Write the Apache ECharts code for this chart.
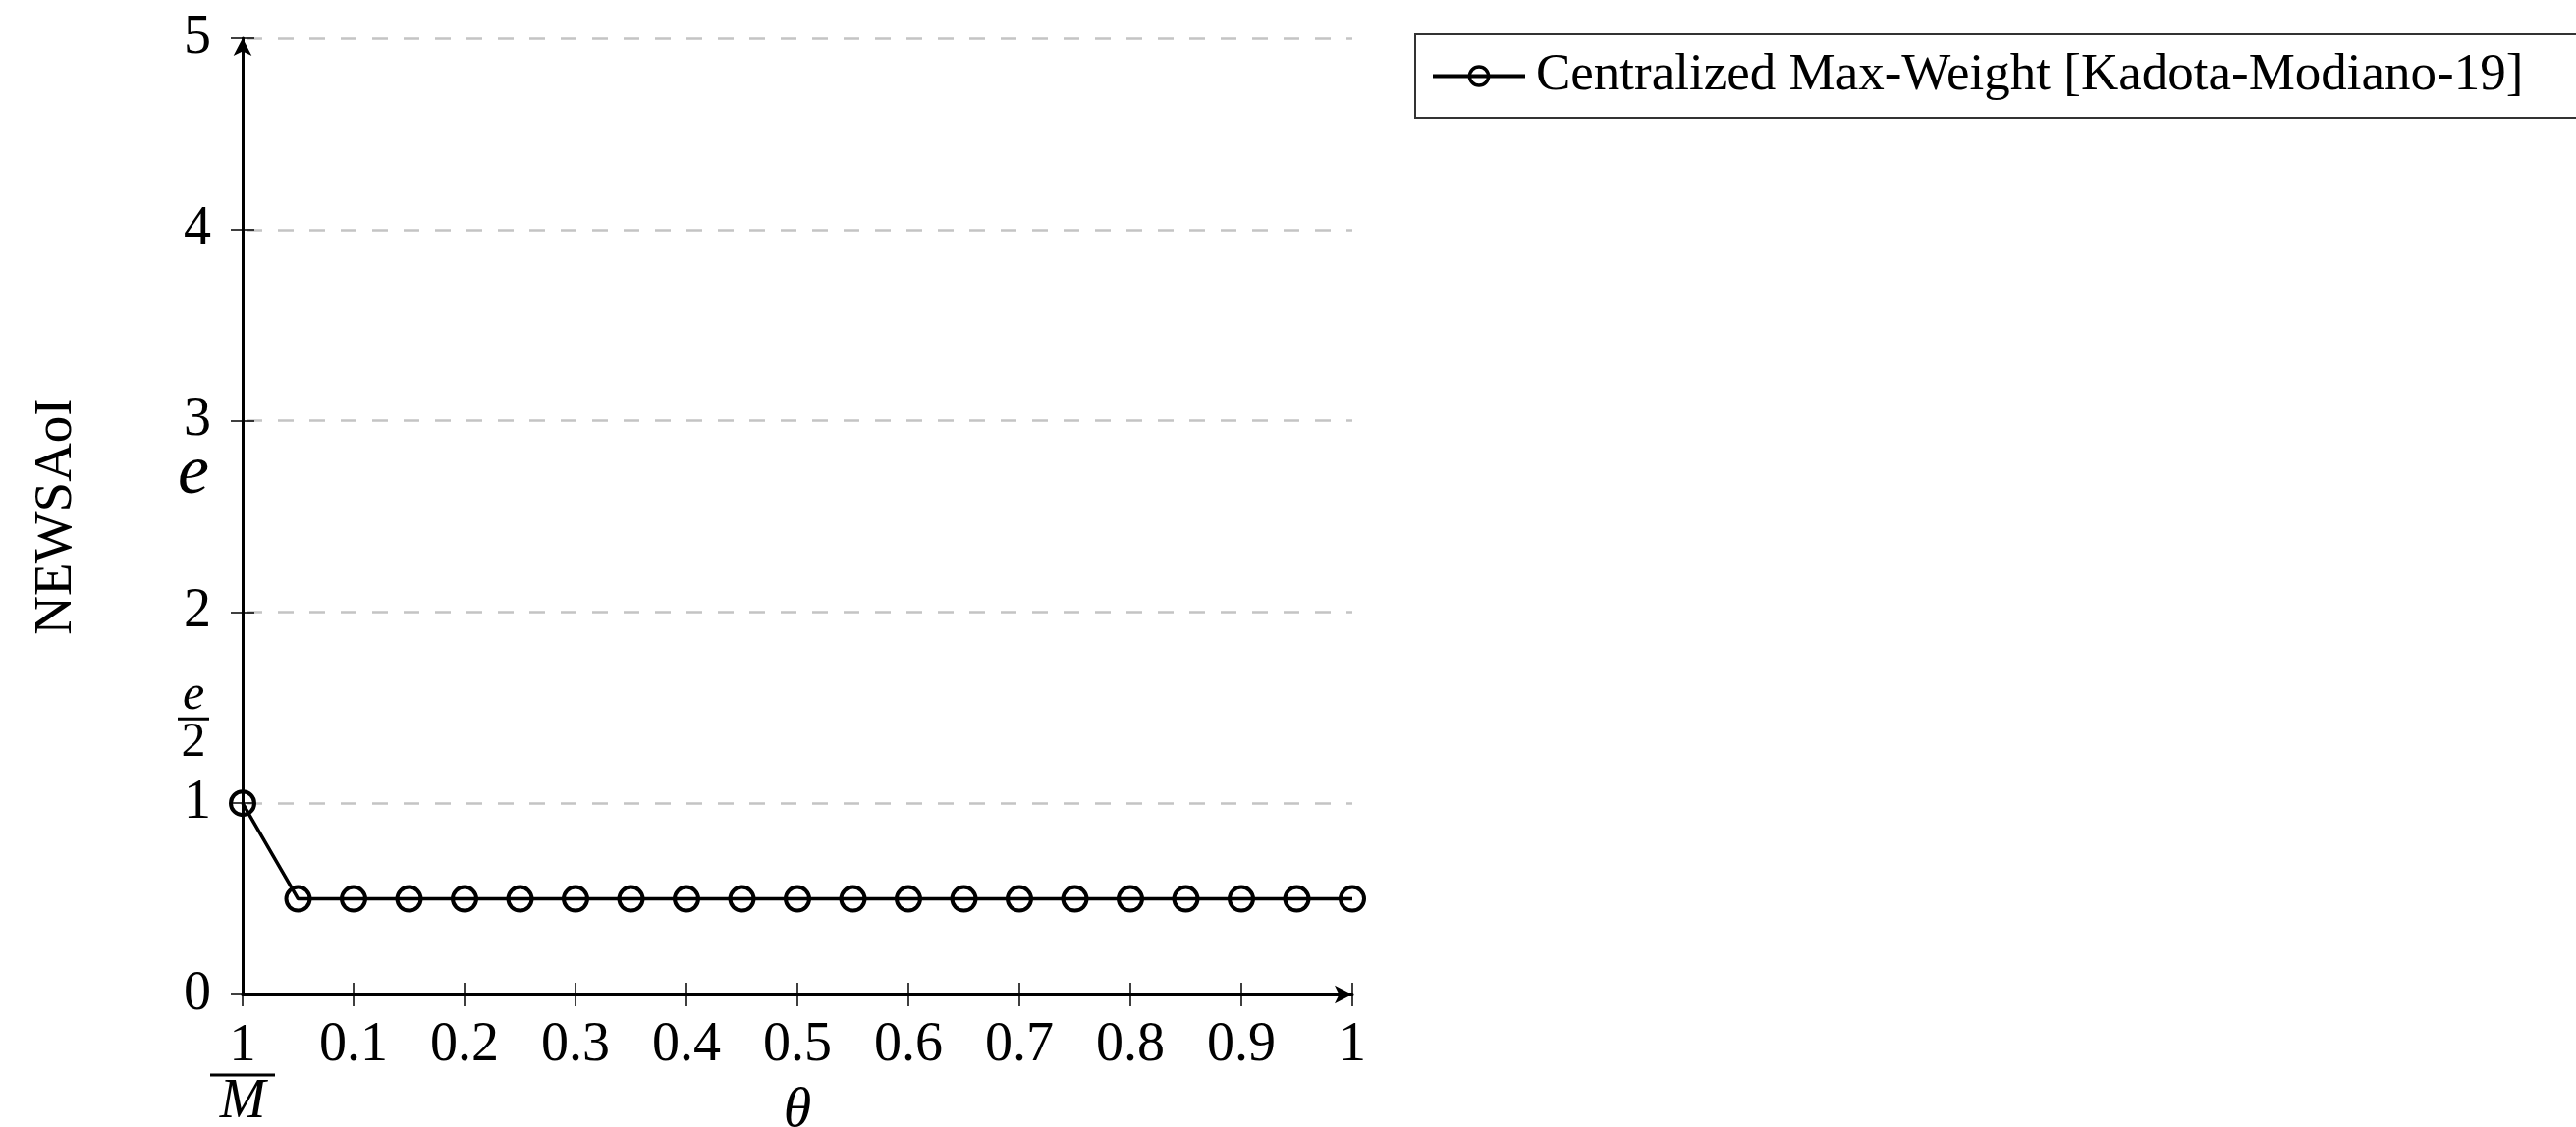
<!DOCTYPE html>
<html><head><meta charset="utf-8">
<script src="https://cdn.jsdelivr.net/npm/echarts@6/dist/echarts.min.js"></script>
<style>html,body{margin:0;padding:0;background:#fff}#c{width:2623px;height:1148px}</style>
</head><body><div id="c"></div>
<script>
// ---- data ----
const seriesName = 'Centralized Max-Weight [Kadota-Modiano-19]';
// first point sits at theta = 1/M (drawn at the axis origin)
const thetaValues = [0, 0.05, 0.1, 0.15, 0.2, 0.25, 0.3, 0.35, 0.4, 0.45, 0.5, 0.55, 0.6, 0.65, 0.7, 0.75, 0.8, 0.85, 0.9, 0.95, 1.0];
const newsaoiValues = [1, 0.5, 0.5, 0.5, 0.5, 0.5, 0.5, 0.5, 0.5, 0.5, 0.5, 0.5, 0.5, 0.5, 0.5, 0.5, 0.5, 0.5, 0.5, 0.5, 0.5];
const xTickValues = [0, 0.1, 0.2, 0.3, 0.4, 0.5, 0.6, 0.7, 0.8, 0.9, 1];
const xTickLabels = ['1/M', '0.1', '0.2', '0.3', '0.4', '0.5', '0.6', '0.7', '0.8', '0.9', '1'];
const yTickValues = [0, 1, 2, 3, 4, 5];
const yTickLabels = ['0', '1', '2', '3', '4', '5'];
const yExtraValues = [Math.E / 2, Math.E];
const yExtraLabels = ['e/2', 'e'];
const xName = 'θ';
const yName = 'NEWSAoI';

// ---- chart ----
const SERIF = '"Liberation Serif", "Times New Roman", serif';
const chart = echarts.init(document.getElementById('c'), null, {renderer: 'canvas'});
const fracRich = {
  n: {fontFamily: SERIF, fontSize: 54, lineHeight: 58, color: '#000', align: 'center'},
  hr: {width: 66, height: 0, borderWidth: 3, borderColor: '#000', align: 'center'},
  m: {fontFamily: SERIF, fontStyle: 'italic', fontSize: 56, lineHeight: 56, color: '#000', align: 'center'},
  e: {fontFamily: SERIF, fontStyle: 'italic', fontSize: 50, lineHeight: 46, color: '#000', align: 'center'},
  hr2: {width: 32, height: 0, borderWidth: 3, borderColor: '#000', align: 'center'},
  d: {fontFamily: SERIF, fontSize: 50, lineHeight: 50, color: '#000', align: 'center'},
  sp: {fontFamily: SERIF, fontSize: 10, lineHeight: 28, color: '#fff', align: 'center'},
  big: {fontFamily: SERIF, fontStyle: 'italic', fontSize: 72, color: '#000'}
};
const xMin = 0, xMax = 1, yMin = 0, yMax = 5;
chart.setOption({
  backgroundColor: '#fff',
  animation: false,
  grid: {left: 247, right: 1246, top: 39, bottom: 135, containLabel: false, outerBoundsMode: 'none'},
  legend: {
    left: 1441, top: 35,
    padding: [16, 60, 16, 16],
    borderColor: '#333', borderWidth: 2,
    itemWidth: 94, itemHeight: 24,
    textStyle: {fontFamily: SERIF, fontSize: 53, color: '#000', padding: [0, 0, 0, 6]},
    lineStyle: {color: '#000', width: 4},
    itemStyle: {color: 'rgba(255,255,255,0)', borderColor: '#000', borderWidth: 3.5},
    data: [seriesName]
  },
  xAxis: [{
    type: 'value', min: xMin, max: xMax, interval: 0.1,
    name: xName, nameLocation: 'middle', nameGap: 90, nameMoveOverlap: false,
    nameTextStyle: {fontFamily: SERIF, fontStyle: 'italic', fontSize: 58, color: '#000'},
    axisLine: {show: true, onZero: false, symbol: ['none', 'arrow'], symbolSize: [14, 18], lineStyle: {color: '#000', width: 3}},
    axisTick: {show: true, inside: false, length: 12, customValues: xTickValues, lineStyle: {color: '#000', width: 1.5}},
    axisLabel: {
      customValues: xTickValues, margin: 24, color: '#000', fontFamily: SERIF, fontSize: 56,
      formatter: function (v) {
        const i = xTickValues.findIndex(t => Math.abs(t - v) < 1e-9);
        const s = i >= 0 ? xTickLabels[i] : String(v);
        if (s.indexOf('/') > 0) { const p = s.split('/'); return '{n|' + p[0] + '}\n{hr|}\n{m|' + p[1] + '}'; }
        return s;
      },
      rich: fracRich
    },
    splitLine: {show: false}
  }, {
    type: 'value', min: xMin, max: xMax, interval: 0.1, position: 'bottom',
    axisLine: {show: false},
    axisTick: {show: true, inside: true, length: 12, customValues: xTickValues, lineStyle: {color: '#000', width: 1.5}},
    axisLabel: {show: false}, splitLine: {show: false}
  }],
  yAxis: [{
    type: 'value', min: yMin, max: yMax, interval: 1,
    name: yName, nameLocation: 'middle', nameGap: 162, nameMoveOverlap: false,
    nameTextStyle: {fontFamily: SERIF, fontSize: 55, color: '#000'},
    axisLine: {show: true, onZero: false, symbol: ['none', 'arrow'], symbolSize: [14, 18], lineStyle: {color: '#000', width: 3}},
    axisTick: {show: true, inside: false, length: 12, lineStyle: {color: '#000', width: 1.5}},
    axisLabel: {
      margin: 32, color: '#000', fontFamily: SERIF, fontSize: 56,
      formatter: function (v) { const i = yTickValues.indexOf(v); return i >= 0 ? yTickLabels[i] : String(v); }
    },
    splitLine: {show: true, lineStyle: {color: '#c4c4c4', width: 2.5, type: [16, 16], dashOffset: 28}}
  }, {
    type: 'value', min: yMin, max: yMax, interval: 1, position: 'left',
    axisLine: {show: false},
    axisTick: {show: true, inside: true, length: 12, customValues: yTickValues, lineStyle: {color: '#000', width: 1.5}},
    axisLabel: {
      customValues: yExtraValues, margin: 34, color: '#000',
      formatter: function (v) {
        const i = yExtraValues.findIndex(t => Math.abs(t - v) < 1e-9);
        const s = i >= 0 ? yExtraLabels[i] : String(v);
        if (s.indexOf('/') > 0) { const p = s.split('/'); return '{e|' + p[0] + '}\n{hr2|}\n{d|' + p[1] + '}\n{sp| }'; }
        return '{big|' + s + '}';
      },
      rich: fracRich
    },
    splitLine: {show: false}
  }],
  series: [{
    name: seriesName, type: 'line', xAxisIndex: 0, yAxisIndex: 0,
    data: thetaValues.map((x, i) => [x, newsaoiValues[i]]),
    symbol: 'circle', symbolSize: 24,
    lineStyle: {color: '#000', width: 3.5},
    itemStyle: {color: 'rgba(255,255,255,0)', borderColor: '#000', borderWidth: 4},
    z: 5
  }]
});
</script></body></html>
